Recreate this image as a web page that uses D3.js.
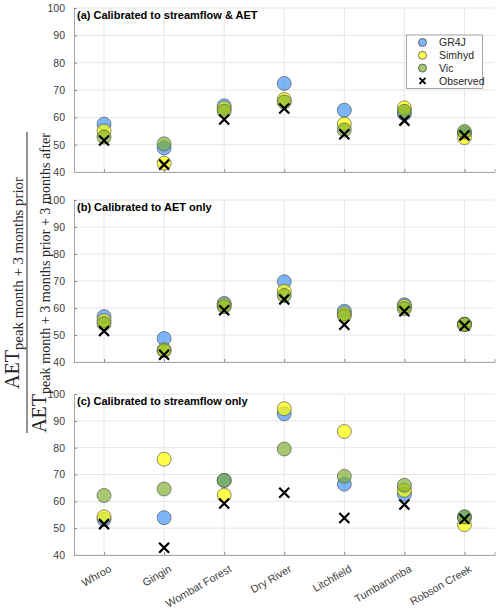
<!DOCTYPE html>
<html>
<head>
<meta charset="utf-8">
<script src="https://cdn.jsdelivr.net/npm/d3@7"></script>
<style>
  body { margin: 0; background: #fff; }
  text { font-family: "Liberation Sans", Arial, sans-serif; }
</style>
</head>
<body>
<div id="chart"></div>
<script>
// sites along the x axis
var sites = ["Whroo", "Gingin", "Wombat Forest", "Dry River", "Litchfield", "Tumbarumba", "Robson Creek"];
var yTicks = [40, 50, 60, 70, 80, 90, 100];

// observed ratio (same in every panel)
var observed = [51.5, 42.7, 59.2, 63.2, 53.8, 58.8, 53.4];

// (a) calibrated to streamflow & AET
var gr4jA   = [57.5, 48.8, 64.2, 72.4, 62.6, 61.3, 54.2];
var simhydA = [55.0, 43.2, 63.3, 66.5, 57.5, 63.5, 52.6];
var vicA    = [52.8, 50.3, 62.3, 65.6, 55.4, 62.2, 54.8];

// (b) calibrated to AET only
var gr4jB   = [56.8, 48.7, 61.7, 69.7, 58.8, 61.2, 54.0];
var simhydB = [55.3, 44.5, 61.1, 66.2, 57.9, 60.6, 53.9];
var vicB    = [54.2, 44.2, 60.5, 64.6, 57.1, 59.8, 53.9];

// (c) calibrated to streamflow only
var gr4jC   = [53.3, 53.9, 67.8, 92.6, 66.4, 62.6, 54.0];
var simhydC = [54.2, 75.7, 62.3, 94.5, 86.0, 64.1, 51.3];
var vicC    = [62.2, 64.6, 67.8, 79.5, 69.3, 66.0, 54.3];

var titles = ["(a) Calibrated to streamflow & AET", "(b) Calibrated to AET only", "(c) Calibrated to streamflow only"];
var models = ["GR4J", "Simhyd", "Vic"];
var colors = { "GR4J": "rgb(70,150,245)", "Simhyd": "rgb(255,255,0)", "Vic": "rgb(120,172,40)" };
var panelData = [
  [gr4jA, simhydA, vicA],
  [gr4jB, simhydB, vicB],
  [gr4jC, simhydC, vicC]
];

var svgWidth = 500, svgHeight = 614;
var left = 74, right = 494.5;
// top/bottom pixel of each panel
var panels = [[8, 172], [200, 362], [394, 555]];

var svg = d3.select("#chart").append("svg")
  .attr("width", svgWidth)
  .attr("height", svgHeight);

var xScale = d3.scaleLinear().domain([0.5, 7.5]).range([left, right]);

panels.forEach(function(p, i) {
  var yScale = d3.scaleLinear().domain([40, 100]).range([p[1], p[0]]);
  var g = svg.append("g");

  // grid
  g.selectAll(".hgrid").data(yTicks).enter().append("line")
    .attr("x1", left).attr("x2", right)
    .attr("y1", d => yScale(d)).attr("y2", d => yScale(d))
    .attr("stroke", "#e6e6e6").attr("stroke-width", 1);
  g.selectAll(".vgrid").data(sites).enter().append("line")
    .attr("x1", (d, j) => xScale(j + 1)).attr("x2", (d, j) => xScale(j + 1))
    .attr("y1", p[0]).attr("y2", p[1])
    .attr("stroke", "#e6e6e6").attr("stroke-width", 1);

  // axes
  var leftAxis = d3.axisLeft(yScale).tickValues(yTicks).tickSize(-3).tickPadding(9);
  var bottomAxis = d3.axisBottom(xScale).tickValues(d3.range(1, 8)).tickSize(-3).tickFormat("");
  var ya = g.append("g").attr("transform", `translate(${left},0)`).call(leftAxis);
  var xa = g.append("g").attr("transform", `translate(0,${p[1]})`).call(bottomAxis);
  [ya, xa].forEach(function(a) {
    a.select(".domain").attr("stroke", "#a6a6a6");
    a.selectAll(".tick line").attr("stroke", "#8c8c8c");
    a.selectAll(".tick text").attr("fill", "#404040").style("font-size", "10.5px");
  });

  if (i === 2) {
    g.selectAll(".xlab").data(sites).enter().append("text")
      .attr("transform", (d, j) => `translate(${xScale(j + 1) + 4},${p[1] + 9}) rotate(-30)`)
      .attr("text-anchor", "end")
      .attr("dy", "0.75em")
      .attr("fill", "#404040")
      .style("font-size", "10.8px")
      .text(d => d);
  }

  // title
  g.append("text")
    .attr("x", left + 3).attr("y", p[0] + 11)
    .style("font-size", "11px").style("font-weight", "bold")
    .attr("fill", "#000")
    .text(titles[i]);

  // model markers
  panelData[i].forEach(function(vals, m) {
    g.selectAll(".m" + m).data(vals).enter().append("circle")
      .attr("cx", (d, j) => xScale(j + 1))
      .attr("cy", d => yScale(d))
      .attr("r", 7)
      .attr("fill", colors[models[m]])
      .attr("fill-opacity", m === 2 ? 0.65 : 0.7)
      .attr("stroke", "#4d4d4d")
      .attr("stroke-opacity", 0.8)
      .attr("stroke-width", 0.8);
  });

  // observed crosses
  var s = 5;
  g.selectAll(".obs").data(observed).enter().append("path")
    .attr("d", (d, j) => {
      var cx = xScale(j + 1), cy = yScale(d);
      return `M${cx - s},${cy - s}L${cx + s},${cy + s}M${cx - s},${cy + s}L${cx + s},${cy - s}`;
    })
    .attr("stroke", "#000").attr("stroke-width", 2.2).attr("fill", "none");

  // legend in first panel
  if (i === 0) {
    var lg = g.append("g");
    lg.append("rect")
      .attr("x", 406.5).attr("y", 35).attr("width", 76).attr("height", 53.5)
      .attr("fill", "#fff").attr("stroke", "#a6a6a6").attr("stroke-width", 1);
    var entries = models.concat(["Observed"]);
    entries.forEach(function(name, k) {
      var ly = 42.5 + k * 12.8;
      if (k < 3) {
        lg.append("circle").attr("cx", 422.5).attr("cy", ly).attr("r", 4)
          .attr("fill", colors[name]).attr("fill-opacity", k === 2 ? 0.65 : 0.7)
          .attr("stroke", "#4d4d4d").attr("stroke-width", 0.8);
      } else {
        var c = 3;
        lg.append("path")
          .attr("d", `M${422.5 - c},${ly - c}L${422.5 + c},${ly + c}M${422.5 - c},${ly + c}L${422.5 + c},${ly - c}`)
          .attr("stroke", "#000").attr("stroke-width", 2);
      }
      lg.append("text").attr("x", 439).attr("y", ly).attr("dy", "0.35em")
        .attr("fill", "#262626").style("font-size", "10.5px").text(name);
    });
  }
});

// y label: fraction, sized to fit the lengths seen in the figure
var serif = "'Liberation Serif', 'DejaVu Serif', serif";
var lab = svg.append("g").attr("transform", "translate(0,283) rotate(-90)");
function fracText(v, sub, total) {
  var t = lab.append("text").attr("x", 0).attr("y", v)
    .attr("text-anchor", "middle")
    .style("font-family", serif).attr("fill", "#262626");
  var big = t.append("tspan").style("font-size", "20px").text("AET");
  var small = t.append("tspan").attr("dy", 4).style("font-size", "10px").text(sub);
  var wBig = big.node().getComputedTextLength();
  var wSmall = small.node().getComputedTextLength();
  small.style("font-size", (10 * (total - wBig) / wSmall) + "px");
}
fracText(18.5, "peak month + 3 months prior", 212);
fracText(45.5, "peak month + 3 months prior + 3 months after", 300);
lab.append("line").attr("x1", -150).attr("x2", 151).attr("y1", 27).attr("y2", 27)
  .attr("stroke", "#262626").attr("stroke-width", 1);
</script>
</body>
</html>
